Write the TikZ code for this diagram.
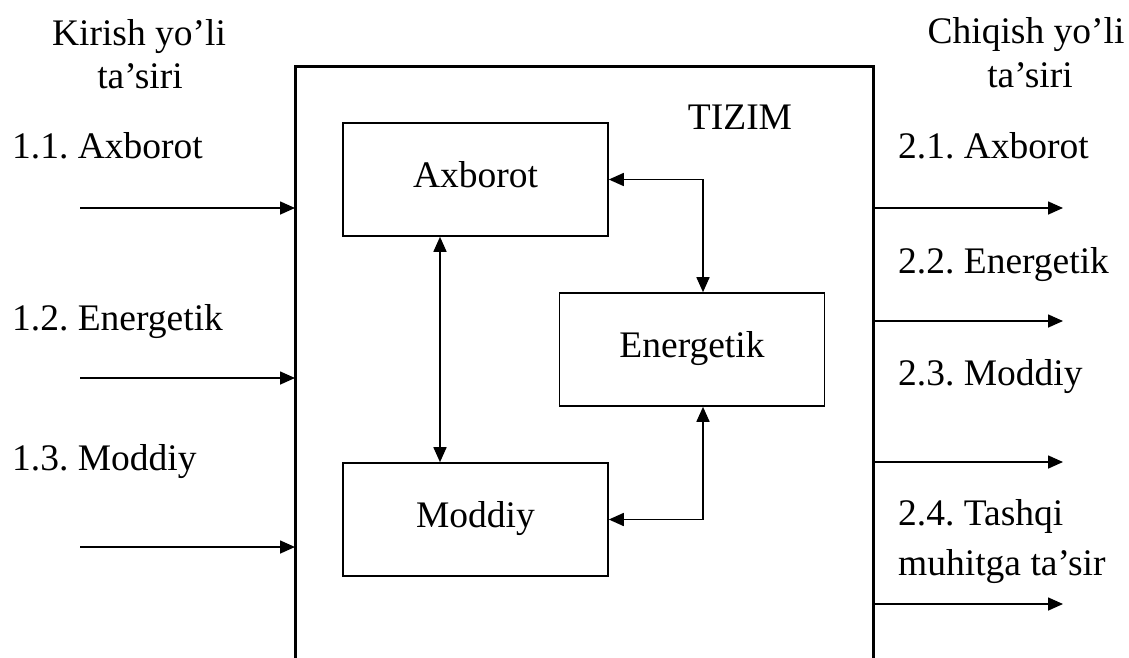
\documentclass[tikz,border=0pt]{standalone}
\usepackage{fontspec}
\setmainfont{Liberation Serif}
\usetikzlibrary{arrows.meta}
\frenchspacing
\begin{document}
\begin{tikzpicture}[x=1pt,y=-1pt]
\tikzstyle{every node}=[font=\fontsize{37.5}{42}\selectfont, inner sep=0pt]
\tikzstyle{blok}=[draw, line width=1.6pt, minimum width=265pt, minimum height=113pt, text height=26pt, text depth=11pt]
\tikzstyle{oqim}=[line width=1.6pt, arrows={-Triangle[length=15pt,width=13pt]}]
\tikzstyle{ikki}=[line width=1.6pt, arrows={Triangle[length=15pt,width=13pt]-Triangle[length=15pt,width=13pt]}]
\useasboundingbox (0,0) rectangle (1129,657);
% tizim chegarasi
\draw[line width=3pt] (295,662) -- (295,66) -- (873,66) -- (873,662);
\node[anchor=base] (tz) at (740,129) {TIZIM};
% ichki bloklar
\node[blok] (ax) at (475.5,179.5) {Axborot};
\node[blok] (en) at (692,349.5) {Energetik};
\node[blok] (md) at (475.5,519.5) {Moddiy};
\draw[ikki] ([xshift=-35.5pt]ax.south) -- ([xshift=-35.5pt]md.north);
\draw[ikki] (ax.east) -| ([xshift=11pt]en.north);
\draw[ikki] (md.east) -| ([xshift=11pt]en.south);
% kirish
\node[anchor=base] (kir1) at (139,45) {Kirish yo’li};
\node[anchor=base] (kir2) at (140,88) {ta’siri};
\node[anchor=base west] (k1) at (12,158) {1.1. Axborot};
\node[anchor=base west] (k2) at (12,330) {1.2. Energetik};
\node[anchor=base west] (k3) at (12,470) {1.3. Moddiy};
\foreach \y [count=\i] in {208,378,547} {
  \coordinate (a\i) at (80,\y);
  \coordinate (b\i) at (295,\y);
  \draw[oqim] (a\i) -- (b\i);
}
% chiqish
\node[anchor=base] (chq1) at (1026,43) {Chiqish yo’li};
\node[anchor=base] (chq2) at (1030,87) {ta’siri};
\node[anchor=base west] (c1) at (898,158) {2.1. Axborot};
\node[anchor=base west] (c2) at (898,273) {2.2. Energetik};
\node[anchor=base west] (c3) at (898,385) {2.3. Moddiy};
\node[anchor=base west] (c4) at (898,525) {2.4. Tashqi};
\node[anchor=base west] (c5) at (898,575) {muhitga ta’sir};
\foreach \y [count=\i] in {208,321,462,604} {
  \coordinate (p\i) at (873,\y);
  \coordinate (q\i) at (1063,\y);
  \draw[oqim] (p\i) -- (q\i);
}
\end{tikzpicture}
\end{document}
